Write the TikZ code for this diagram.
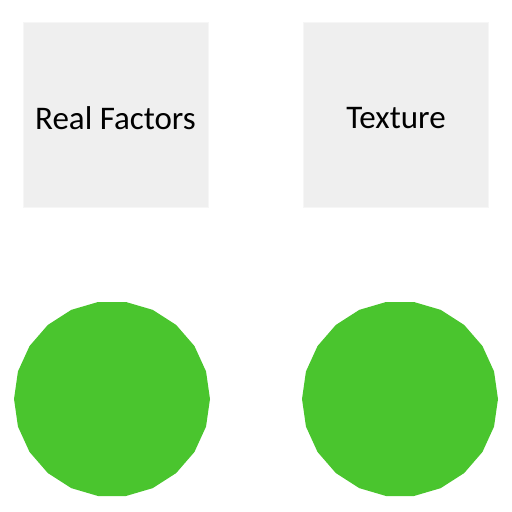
\documentclass[tikz,border=0pt]{standalone}
\usepackage{fontspec}
\setmainfont{Carlito}
\usetikzlibrary{shapes.geometric}
\definecolor{boxfill}{HTML}{EFEFEF}
\definecolor{boxline}{HTML}{F6F6F6}
\definecolor{dotgreen}{HTML}{4AC52E}
\begin{document}
\begin{tikzpicture}[x=1pt,y=-1pt,
  card/.style={draw=boxline,line width=1pt,fill=boxfill,minimum width=185pt,minimum height=185pt,inner sep=0pt},
  cardtext/.style={inner sep=0pt,font=\fontsize{33}{38}\selectfont},
  disc/.style={regular polygon,regular polygon sides=22,fill=dotgreen,draw=none,minimum size=196pt,inner sep=0pt}]
\useasboundingbox (0,0) rectangle (512,512);
\node[card] (rf) at (115.5,115) {};
\node[cardtext] (rft) at (115.5,118) {Real Factors};
\node[card] (tx) at (396,115) {};
\node[cardtext] (txt) at (396,118) {Texture};
\node[disc] (c1) at (112,399) {};
\node[disc] (c2) at (400,399) {};
\end{tikzpicture}
\end{document}
